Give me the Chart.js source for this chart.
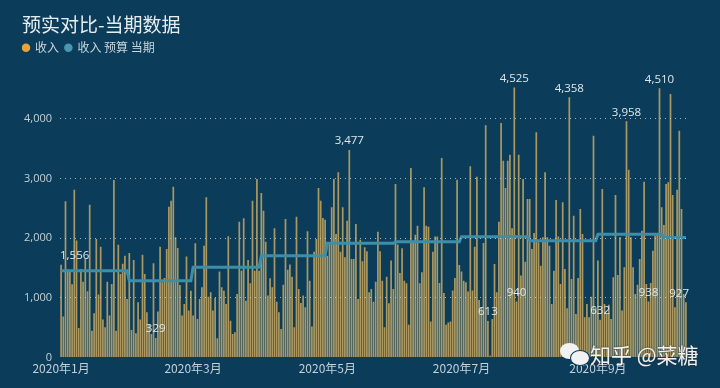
<!doctype html>
<html lang="zh">
<head>
<meta charset="utf-8">
<title>预实对比-当期数据</title>
<script src="https://cdn.jsdelivr.net/npm/chart.js@4"></script>
<style>
  html, body { margin: 0; padding: 0; background: #0b3c5a; overflow: hidden; }
  #wrap { position: relative; width: 720px; height: 388px; }
  #mark { position: absolute; left: 590px; top: 339px; font: 21px "Noto Sans CJK SC"; color: #f2f2f2; white-space: nowrap; text-shadow: 0 0 2px #333; }
  .bub { position: absolute; background: #f2f2f2; border-radius: 50%; }
</style>
</head>
<body>
<div id="wrap">
  <canvas id="myChart" width="720" height="388"></canvas>
  <div class="bub" style="left:560px;top:343px;width:19px;height:16px"></div>
  <div class="bub" style="left:570px;top:350px;width:18px;height:14px;border:1px solid #0b3c5a"></div>
  <div id="mark">知乎 @菜糖</div>
</div>
<script>
var income = [
  1556,690,2617,1473,1456,1230,2812,1960,497,1484,1272,1650,1110,2560,450,742,1986,1055,1858,636,
  508,1272,703,1233,2974,450,1890,1400,1570,1707,982,1752,463,1635,407,926,636,1724,1400,759,
  563,396,1579,329,770,1858,1261,1334,1819,2528,2628,2863,2014,1836,1216,703,898,1691,787,1121,
  703,1914,647,982,1177,1875,2684,1021,1094,787,999,324,1440,1177,1121,898,2031,619,396,424,
  1066,2277,1456,2332,954,1635,1244,2628,1456,2990,1456,2756,2460,1942,1038,1328,1177,2165,937,759,
  480,1222,2321,1473,1557,1356,508,2360,1149,915,1038,843,2115,1289,519,1774,1986,2840,2628,2338,
  2310,1707,1914,2517,2990,2070,3102,1774,2517,1680,2293,3477,1652,1652,2238,982,1975,1613,1847,1780,
  1094,1149,937,1272,2109,1780,1289,508,1356,909,1624,1149,2907,1892,1417,1830,1289,1244,552,3175,
  1931,2059,2210,1244,1428,2851,2210,2193,603,1774,2026,2026,1250,3342,1082,552,586,603,1122,1334,
  2980,1551,1440,1289,1261,1105,3203,1122,1858,3030,965,843,1920,3890,613,30,647,1568,1094,2277,
  3928,3298,2840,3298,3398,2165,4525,940,3398,1373,2990,1607,2656,2656,1819,2087,3772,1931,1540,2014,
  3102,2014,1875,898,1456,2640,2026,1233,2600,1484,826,4358,1317,2377,731,1334,2489,2070,675,898,
  675,1021,3716,843,1624,632,2823,898,731,887,647,1345,2723,1384,2014,787,1512,3958,3147,2014,
  1512,1066,1222,1652,2126,2946,1233,938,1250,1791,2042,2087,4510,2517,2221,2907,2935,4414,2723,843,
  2812,3800,2489,1066,927
];
var monthBudget = [1456,1289,1511,1707,1913,1941,2025,1958,2067,2013];
var tickLabels = { '2020-01-01':'2020年1月', '2020-03-01':'2020年3月', '2020-05-01':'2020年5月', '2020-07-01':'2020年7月', '2020-09-01':'2020年9月' };
var labeledDays = [0,43,131,194,206,207,231,245,257,267,272,284];
var yTicks = [0,1000,2000,3000,4000];

var categories = [], budget = [];
income.forEach(function (v, i) {
  var d = new Date(2020, 0, 1 + i);
  var m = d.getMonth();
  categories.push('2020-' + String(m + 1).padStart(2, '0') + '-' + String(d.getDate()).padStart(2, '0'));
  budget.push(monthBudget[m]);
});

// value labels sit above their bars, pushed back inside the plot at the edges
var dayLabels = {
  id: 'dayLabels',
  afterDatasetsDraw: function (chart) {
    var ctx = chart.ctx, meta = chart.getDatasetMeta(0), area = chart.chartArea;
    ctx.save();
    ctx.font = '11.5px "Open Sans"';
    ctx.fillStyle = '#dfe8ec';
    ctx.textAlign = 'center';
    ctx.textBaseline = 'middle';
    labeledDays.forEach(function (i) {
      var text = income[i].toLocaleString('en-US');
      var half = ctx.measureText(text).width / 2;
      var x = Math.min(Math.max(meta.data[i].x, area.left + half), area.right + 2 - half);
      ctx.fillText(text, x, meta.data[i].y - 9);
    });
    ctx.restore();
  }
};

new Chart(document.getElementById('myChart'), {
  data: {
    labels: categories,
    datasets: [
      { type: 'bar', label: '收入', data: income, backgroundColor: '#ab9860', categoryPercentage: 1, barPercentage: 0.78, order: 2 },
      { type: 'line', label: '收入 预算 当期', data: budget, borderColor: '#3f8ea8', borderWidth: 3, pointRadius: 0, tension: 0, order: 1 }
    ]
  },
  options: {
    responsive: false,
    animation: false,
    layout: { padding: { left: 22, right: 33, top: 13, bottom: 8 } },
    plugins: {
      tooltip: { enabled: false },
      title: {
        display: true, text: '预实对比-当期数据', align: 'start', color: '#e6edf0',
        font: { family: '"Noto Sans CJK SC"', size: 19, weight: 'normal' },
        padding: { top: 0, bottom: 5 }
      },
      legend: {
        align: 'start',
        labels: {
          color: '#c9d6dc', usePointStyle: true, boxWidth: 6, boxHeight: 6, padding: 1,
          font: { family: '"Noto Sans CJK SC"', size: 12 },
          generateLabels: function () {
            return [
              { text: '收入  ', fillStyle: '#e8a33a', strokeStyle: '#e8a33a', pointStyle: 'circle', fontColor: '#c9d6dc', lineWidth: 0 },
              { text: '收入 预算 当期', fillStyle: '#4a97af', strokeStyle: '#4a97af', pointStyle: 'circle', fontColor: '#c9d6dc', lineWidth: 0 }
            ];
          }
        }
      }
    },
    scales: {
      x: {
        grid: { display: false, drawTicks: false },
        border: { display: false },
        ticks: {
          autoSkip: false, maxRotation: 0, minRotation: 0, padding: 4,
          color: '#c3d1d8', font: { family: '"Noto Sans CJK SC"', size: 12 },
          callback: function (v) { return tickLabels[this.getLabelForValue(v)] || ''; }
        }
      },
      y: {
        min: 0, max: 4920,
        afterFit: function (s) { s.width = 38; },
        afterBuildTicks: function (s) { s.ticks = yTicks.map(function (v) { return { value: v }; }); },
        border: { display: false, dash: [1, 4] },
        grid: {
          z: 1, drawTicks: false, lineWidth: 1,
          color: function (c) { return c.tick.value === 0 ? 'transparent' : 'rgba(200,215,215,0.8)'; }
        },
        ticks: {
          padding: 8, color: '#c3d1d8', font: { family: '"Open Sans"', size: 11 },
          callback: function (v) { return v.toLocaleString('en-US'); }
        }
      }
    }
  },
  plugins: [dayLabels]
});
</script>
</body>
</html>
